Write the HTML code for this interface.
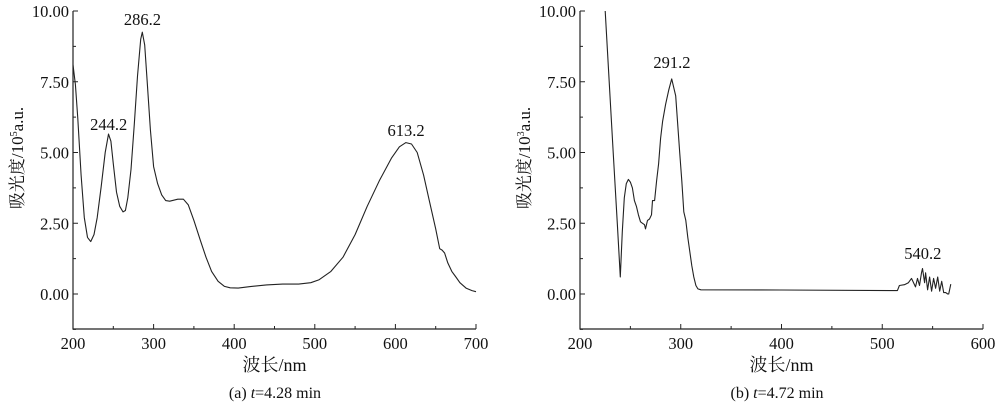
<!DOCTYPE html>
<html><head><meta charset="utf-8"><style>
html,body{margin:0;padding:0;background:#fff;}
</style></head><body>
<svg id="s" width="1000" height="407" viewBox="0 0 1000 407" xmlns="http://www.w3.org/2000/svg" font-family="'Liberation Serif','Noto Serif CJK SC',serif" fill="#111"></svg>
<script>
const s=document.getElementById('s');
let h='';
const F=`font-family="Liberation Serif, Noto Serif CJK SC, serif"`;
function Y(v){return 294-28.3*v;}
function panel(x0,x1,xmin,xmax,step,data,ylab,peaks,cap,capx){
  const sx=(x1-x0)/(xmax-xmin);
  const X=n=>x0+(n-xmin)*sx;
  h+=`<path d="M${x0} 11 V329 H${x1}" fill="none" stroke="#222" stroke-width="1.2"/>`;
  for(let v=-1.25;v<=10.01;v+=1.25){const y=Y(v);h+=`<line x1="${x0}" y1="${y}" x2="${x0+(Math.abs(v%2.5)<0.01?5:3)}" y2="${y}" stroke="#222"/>`;}
  for(let v=0;v<=10;v+=2.5){h+=`<text ${F} x="${x0-4}" y="${Y(v)+6}" font-size="16.5" text-anchor="end">${v.toFixed(2)}</text>`;}
  for(let n=xmin;n<=xmax;n+=step/2){const x=X(n);const maj=((n-xmin)%step)==0;h+=`<line x1="${x}" y1="329" x2="${x}" y2="${329-(maj?5:3)}" stroke="#222"/>`;if(maj)h+=`<text ${F} x="${x}" y="349" font-size="16.5" text-anchor="middle">${n}</text>`;}
  let d='';data.forEach((p,i)=>{d+=(i?'L':'M')+X(p[0]).toFixed(1)+' '+Y(p[1]).toFixed(1);});
  h+=`<path d="${d}" fill="none" stroke="#222" stroke-width="1.1" stroke-linejoin="round"/>`;
  peaks.forEach(p=>{h+=`<text ${F} x="${X(p[0])}" y="${p[1]}" font-size="16.5" text-anchor="middle">${p[2]}</text>`;});
  h+=`<text ${F} transform="translate(${x0-50},158) rotate(-90)" font-size="17" text-anchor="middle">吸光度/10<tspan font-size="10" dy="-6">${ylab}</tspan><tspan dy="6">a.u.</tspan></text>`;
  h+=`<text ${F} x="${(x0+x1)/2}" y="371" font-size="18" text-anchor="middle">波长/nm</text>`;
  h+=`<text ${F} x="${capx}" y="398" font-size="16" text-anchor="middle">${cap}</text>`;
}
const a=[[200,8.1],[203,7.4],[206,6.2],[210,4.2],[214,2.7],[218,2.0],[222,1.85],[226,2.1],[230,2.7],[235,3.8],[240,5.0],[244,5.65],[247,5.4],[250,4.6],[254,3.6],[258,3.1],[262,2.9],[265,2.95],[268,3.4],[272,4.4],[276,6.0],[280,7.7],[284,9.0],[286,9.25],[289,8.8],[292,7.5],[296,5.8],[300,4.5],[305,3.9],[310,3.5],[315,3.3],[320,3.28],[330,3.35],[337,3.35],[343,3.15],[350,2.6],[358,1.9],[365,1.3],[372,0.8],[380,0.45],[388,0.27],[395,0.22],[405,0.21],[420,0.26],[440,0.32],[460,0.35],[480,0.35],[495,0.4],[505,0.5],[520,0.8],[535,1.3],[550,2.1],[565,3.1],[580,4.0],[595,4.8],[605,5.2],[613,5.35],[620,5.3],[627,5.0],[635,4.2],[642,3.3],[650,2.3],[655,1.6],[658,1.55],[661,1.45],[665,1.1],[670,0.8],[675,0.6],[680,0.4],[688,0.2],[695,0.12],[700,0.08]];
const b=[[225,10],[229,7.5],[233,5],[237,2.5],[240,0.6],[242,2.2],[244,3.4],[246,3.9],[248,4.05],[250,3.95],[252,3.75],[254,3.3],[256,3.1],[258,2.8],[260,2.55],[262,2.5],[264,2.45],[265,2.3],[267,2.6],[269,2.65],[271,2.8],[272,3.3],[274,3.3],[276,4.0],[278,4.6],[280,5.5],[282,6.1],[285,6.7],[288,7.2],[291,7.6],[293,7.3],[295,7.0],[297,6.0],[299,5.0],[301,4.0],[303,2.9],[305,2.6],[307,2.0],[309,1.5],[311,1.0],[313,0.6],[315,0.3],[317,0.18],[320,0.15],[400,0.14],[515,0.12],[517,0.3],[522,0.33],[526,0.4],[529,0.55],[533,0.25],[535,0.55],[537,0.3],[539,0.75],[540,0.9],[542,0.4],[543,0.75],[545,0.15],[547,0.6],[549,0.1],[551,0.55],[553,0.2],[555,0.6],[557,0.1],[559,0.45],[561,0.05],[563,0.05],[565,0.0],[566,0.0],[568,0.35]];
panel(73,476,200,700,100,a,'5',[[244.2,130,'244.2'],[286.2,25,'286.2'],[613.2,136,'613.2']],'(a)  <tspan font-style="italic">t</tspan>=4.28 min',275);
panel(580,983,200,600,100,b,'3',[[291.2,68,'291.2'],[540.2,259,'540.2']],'(b)  <tspan font-style="italic">t</tspan>=4.72 min',777);
s.innerHTML=h;
</script>
</body></html>
